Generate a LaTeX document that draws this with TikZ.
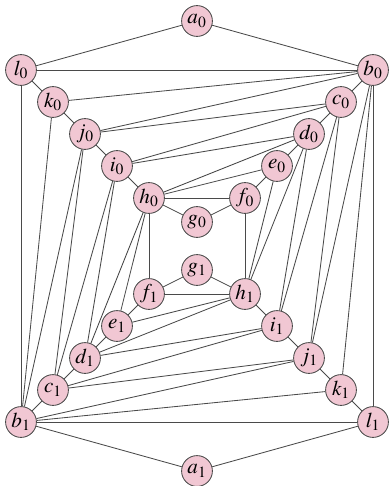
\documentclass[tikz,border=0pt]{standalone}
\usepackage{mathptmx}
\usepackage{tikz}
\definecolor{ink}{HTML}{4A4A4A}
\definecolor{blush}{HTML}{F1C7D3}
\tikzset{
  vtx/.style={circle,draw=ink,fill=blush,line width=.6pt,minimum size=7.7mm,inner sep=0pt,font=\fontsize{15}{18}\selectfont},
  edge/.style={draw=ink,line width=.6pt},
}
\begin{document}
\begin{tikzpicture}[x=.025cm,y=-.025cm]
\path[use as bounding box] (0,0) rectangle (390,486);
% two copies, the lower one turned by half a turn about (197,246)
\foreach \n/\x/\y in {a/197/21,l/21/70,k/53/102,j/85/134,i/117/166,h/149/198,
                      b/373/70,c/341/102,d/309/134,e/277/166,f/245/198,g/197/222}{
  \node[vtx] (\n0) at (\x,\y) {$\n_0$};
  \node[vtx] (\n1) at (394-\x,492-\y) {$\n_1$};
}
% edges inside each copy, then the ones running across
\foreach \s/\t in {0/1,1/0}{
  \foreach \u/\v in {a/l,a/b,l/b,l/k,k/j,j/i,i/h,b/c,c/d,d/e,e/f,h/g,g/f,h/f,
                     k/b,j/b,j/c,i/c,i/d,h/d,h/e}{
    \draw[edge] (\u\s) -- (\v\s);
  }
  \foreach \u/\v in {l/b,k/b,j/b,j/c,i/c,i/d,h/d,h/e,h/f}{
    \draw[edge] (\u\s) -- (\v\t);
  }
}
\end{tikzpicture}
\end{document}
